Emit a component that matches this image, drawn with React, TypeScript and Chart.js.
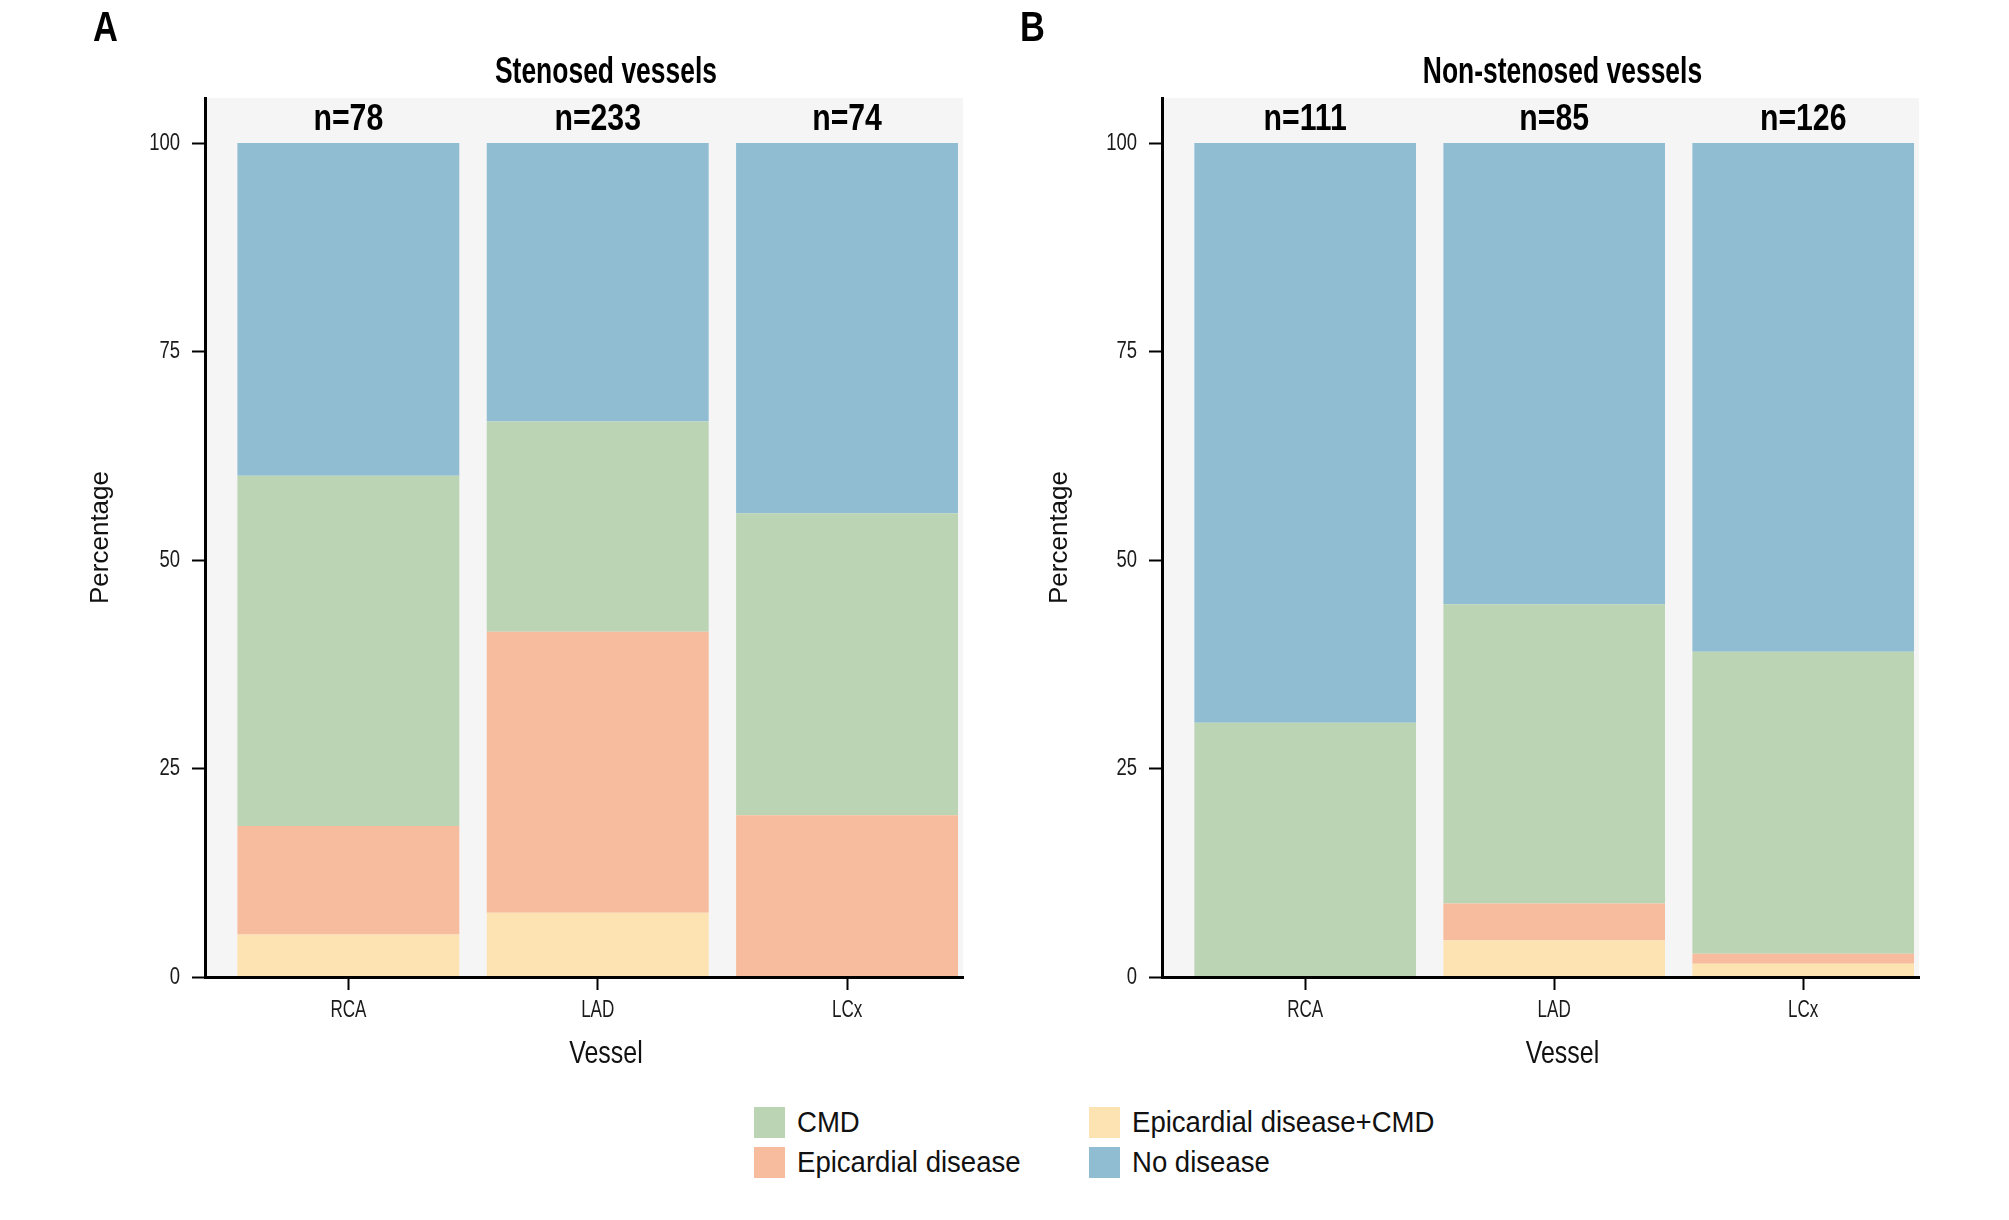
import React, { useEffect, useRef } from 'react';
import { Chart, registerables } from 'chart.js';

Chart.register(...registerables);

// ---------------- data ----------------
const categories = ['RCA', 'LAD', 'LCx'];
const yTicks = [0, 25, 50, 75, 100];

const seriesNames = ['Epicardial disease+CMD', 'Epicardial disease', 'CMD', 'No disease'];
const seriesColors = ['#fde2b2', '#f7bc9d', '#bbd5b4', '#91bdd3'];

// Stenosed vessels (percentages, stacked bottom -> top)
const stenosedN = [78, 233, 74];
const stenosedEpiCMD = [5.1, 7.7, 0];
const stenosedEpi = [13.0, 33.7, 19.4];
const stenosedCMD = [42.0, 25.2, 36.2];
const stenosedNone = [39.9, 33.4, 44.4];

// Non-stenosed vessels
const nonStenosedN = [111, 85, 126];
const nonStenosedEpiCMD = [0, 4.4, 1.6];
const nonStenosedEpi = [0, 4.4, 1.2];
const nonStenosedCMD = [30.5, 35.9, 36.2];
const nonStenosedNone = [69.5, 55.3, 61.0];

// legend, column-major (2 columns x 2 rows)
const legendColumns = [
  ['CMD', 'Epicardial disease'],
  ['Epicardial disease+CMD', 'No disease'],
];

// ---------------- styling ----------------
const SANS = '"Liberation Sans", Arial, sans-serif';
const CANVAS_H = 1100;
const PLOT_TOP = 98;
const PLOT_BOTTOM = 977;

function drawCondensed(
  ctx: CanvasRenderingContext2D,
  text: string,
  x: number,
  y: number,
  font: string,
  sx: number,
  align: CanvasTextAlign,
  baseline: CanvasTextBaseline
) {
  ctx.save();
  ctx.font = font;
  ctx.textAlign = align;
  ctx.textBaseline = baseline;
  ctx.translate(x, y);
  ctx.scale(sx, 1);
  ctx.fillText(text, 0, 0);
  ctx.restore();
}

const panelPlugin = {
  id: 'panelDecor',
  beforeDraw(chart: any) {
    const { ctx, chartArea } = chart;
    ctx.save();
    ctx.fillStyle = '#f5f5f5';
    ctx.fillRect(chartArea.left, chartArea.top, chartArea.right - chartArea.left, chartArea.bottom - chartArea.top);
    ctx.restore();
  },
  afterDraw(chart: any, _a: any, opts: any) {
    const { ctx, chartArea } = chart;
    const xs = chart.scales.x;
    const ys = chart.scales.y;
    const cx = chartArea.left + 0.529 * (chartArea.right - chartArea.left);
    ctx.save();
    ctx.fillStyle = '#000';
    // panel letter
    drawCondensed(ctx, opts.letter, opts.letterX, 41, `bold 42px ${SANS}`, 0.82, 'left', 'alphabetic');
    // title
    drawCondensed(ctx, opts.title, cx, 83, `bold 37px ${SANS}`, 0.715, 'center', 'alphabetic');
    // n labels
    (opts.counts as number[]).forEach((n, i) => {
      drawCondensed(ctx, `n=${n}`, xs.getPixelForValue(i + 1), chartArea.top + 32, `bold 36px ${SANS}`, 0.84, 'center', 'alphabetic');
    });
    // tick labels
    ctx.fillStyle = '#1a1a1a';
    xs.ticks.forEach((t: any) => {
      const label = categories[Math.round(t.value) - 1] ?? '';
      drawCondensed(ctx, label, xs.getPixelForValue(t.value), PLOT_BOTTOM + 33, `24px ${SANS}`, 0.71, 'center', 'middle');
    });
    ys.ticks.forEach((t: any) => {
      drawCondensed(ctx, String(t.value), chartArea.left - 25, ys.getPixelForValue(t.value), `24px ${SANS}`, 0.77, 'right', 'middle');
    });
    // x axis title
    ctx.fillStyle = '#111';
    drawCondensed(ctx, opts.xTitle, cx, 1063, `32px ${SANS}`, 0.78, 'center', 'alphabetic');
    ctx.restore();
  },
};

type PanelProps = {
  left: number;
  width: number;
  yAxisWidth: number;
  padRight: number;
  letter: string;
  letterX: number;
  title: string;
  counts: number[];
  series: number[][];
  yTitlePad: number;
};

function Panel(p: PanelProps) {
  const ref = useRef<HTMLCanvasElement | null>(null);
  useEffect(() => {
    if (!ref.current) return;
    const chart = new Chart(ref.current, {
      type: 'bar',
      data: {
        datasets: p.series.map((vals, si) => ({
          label: seriesNames[si],
          data: vals.map((v, i) => ({ x: i + 1, y: v })),
          backgroundColor: seriesColors[si],
          borderWidth: 0,
          barPercentage: 0.89,
          categoryPercentage: 1,
        })),
      },
      options: {
        animation: false,
        responsive: false,
        devicePixelRatio: 1,
        layout: { padding: { top: PLOT_TOP, right: p.padRight, left: 0, bottom: 0 } },
        plugins: {
          legend: { display: false },
          tooltip: { enabled: false },
          title: { display: false },
          panelDecor: {
            letter: p.letter,
            letterX: p.letterX,
            title: p.title,
            counts: p.counts,
            xTitle: 'Vessel',
          },
        } as any,
        scales: {
          x: {
            type: 'linear',
            stacked: true,
            offset: false,
            min: 0.425,
            max: 3.465,
            afterBuildTicks: (s: any) => {
              s.ticks = categories.map((_, i) => ({ value: i + 1 }));
            },
            afterFit: (s: any) => {
              s.height = CANVAS_H - PLOT_BOTTOM;
            },
            ticks: { display: false },
            grid: {
              display: true,
              offset: false,
              drawOnChartArea: false,
              drawTicks: true,
              tickLength: 13,
              tickWidth: 2,
              tickColor: '#000',
            },
            border: { display: true, color: '#000', width: 3, z: 1 },
          } as any,
          y: {
            stacked: true,
            min: 0,
            max: 105.4,
            afterBuildTicks: (s: any) => {
              s.ticks = yTicks.map((v) => ({ value: v }));
            },
            afterFit: (s: any) => {
              s.width = p.yAxisWidth;
            },
            ticks: { display: false },
            grid: { display: true, drawOnChartArea: false, drawTicks: true, tickLength: 13, tickWidth: 2, tickColor: '#000' },
            border: { display: true, color: '#000', width: 3, z: 1 },
            title: {
              display: true,
              text: 'Percentage',
              color: '#111',
              font: { family: SANS, size: 26 },
              padding: { top: p.yTitlePad, bottom: 0 },
            },
          } as any,
        },
      },
      plugins: [panelPlugin as any],
    });
    return () => chart.destroy();
  }, []);
  return (
    <canvas
      ref={ref}
      width={p.width}
      height={CANVAS_H}
      style={{ position: 'absolute', left: p.left, top: 0, width: p.width, height: CANVAS_H }}
    />
  );
}

function Legend() {
  const colLeft = [754, 1089];
  const rowTop = [1107, 1147];
  const items: React.ReactNode[] = [];
  legendColumns.forEach((col, ci) =>
    col.forEach((name, ri) => {
      const color = seriesColors[seriesNames.indexOf(name)];
      items.push(
        <div
          key={name}
          style={{
            position: 'absolute',
            left: colLeft[ci],
            top: rowTop[ri],
            height: 31,
            display: 'flex',
            alignItems: 'center',
            whiteSpace: 'nowrap',
          }}
        >
          <div style={{ width: 31, height: 31, background: color, marginRight: 12, flex: '0 0 auto' }} />
          <span
            style={{
              display: 'inline-block',
              fontFamily: SANS,
              fontSize: 29,
              color: '#111',
              lineHeight: '31px',
              transform: 'scaleX(0.95)',
              transformOrigin: 'left center',
            }}
          >
            {name}
          </span>
        </div>
      );
    })
  );
  return <>{items}</>;
}

export default function App() {
  return (
    <div style={{ position: 'absolute', left: 0, top: 0, width: 2009, height: 1220, background: '#fff', overflow: 'hidden' }}>
      <Panel
        left={0}
        width={1000}
        yAxisWidth={205}
        padRight={37}
        letter="A"
        letterX={93}
        title="Stenosed vessels"
        counts={stenosedN}
        series={[stenosedEpiCMD, stenosedEpi, stenosedCMD, stenosedNone]}
        yTitlePad={85}
      />
      <Panel
        left={1000}
        width={1009}
        yAxisWidth={162}
        padRight={90}
        letter="B"
        letterX={20}
        title="Non-stenosed vessels"
        counts={nonStenosedN}
        series={[nonStenosedEpiCMD, nonStenosedEpi, nonStenosedCMD, nonStenosedNone]}
        yTitlePad={44}
      />
      <Legend />
    </div>
  );
}
